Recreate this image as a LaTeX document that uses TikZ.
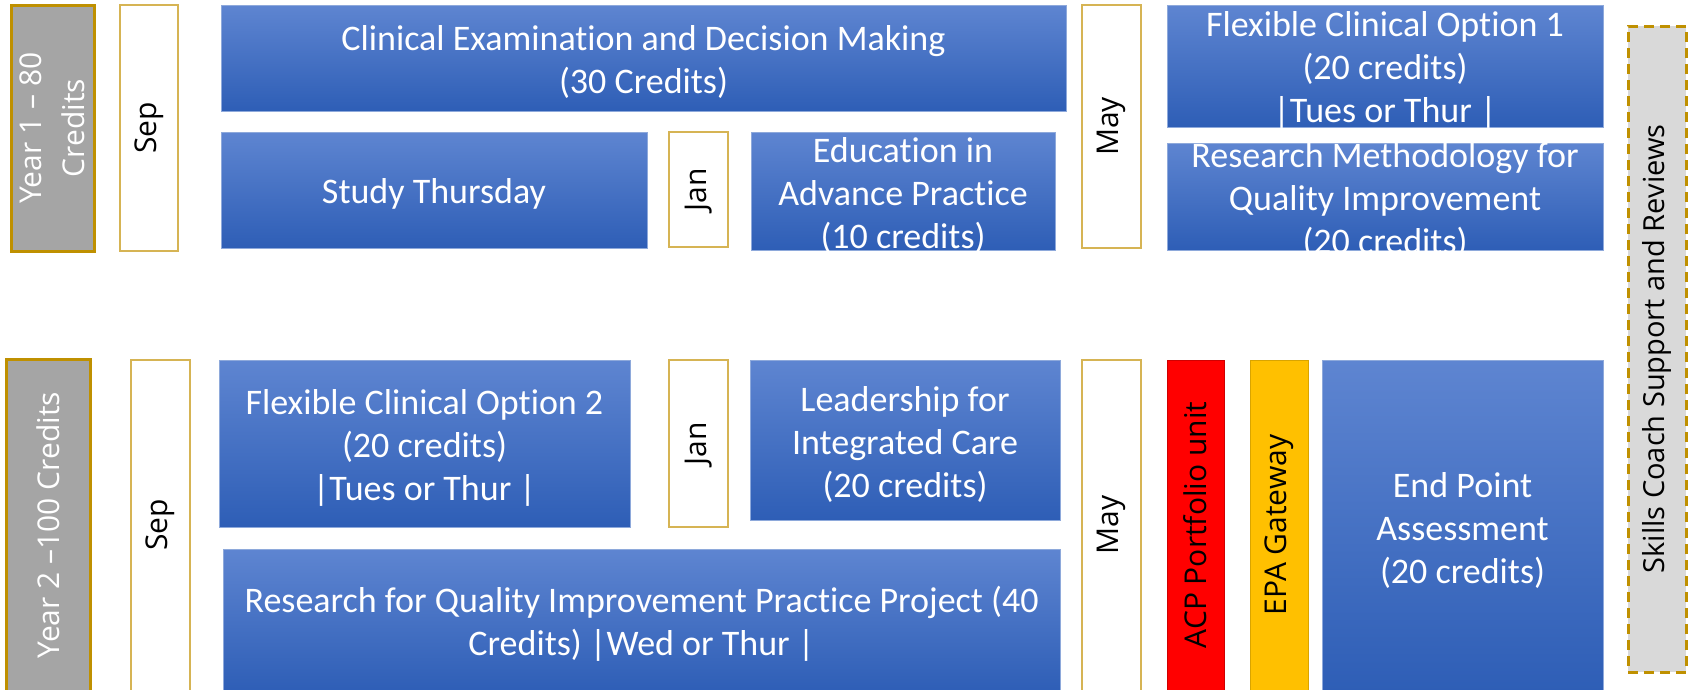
\documentclass[tikz,border=0pt]{standalone}
\usepackage{fontspec}
\setmainfont{Carlito}[Ligatures=NoCommon,RawFeature=-liga]
\newfontfamily\rotfont{Open Sans}
\definecolor{blueTop}{HTML}{5E85D1}
\definecolor{blueBot}{HTML}{2E5EB6}
\definecolor{blueEdge}{HTML}{8EA9DB}
\definecolor{yearFill}{HTML}{A5A5A5}
\definecolor{goldEdge}{HTML}{BF9000}
\definecolor{monthEdge}{HTML}{D6B454}
\definecolor{skillFill}{HTML}{D9D9D9}
\definecolor{epaFill}{HTML}{FFC000}
\definecolor{epaEdge}{HTML}{D9A400}
\definecolor{acpFill}{HTML}{FF0000}
\definecolor{acpEdge}{HTML}{D00000}
\tikzset{
  boxbase/.style={rectangle, inner sep=0pt, outer sep=0pt, anchor=north west},
  bluebox/.style={boxbase, draw=blueEdge, line width=1pt, top color=blueTop, bottom color=blueBot},
  yearbox/.style={boxbase, draw=goldEdge, line width=3pt, fill=yearFill},
  monthbox/.style={boxbase, draw=monthEdge, line width=1.5pt, fill=white},
  acpbox/.style={boxbase, draw=acpEdge, line width=1pt, fill=acpFill},
  epabox/.style={boxbase, draw=epaEdge, line width=1pt, fill=epaFill},
  skillbox/.style={boxbase, draw=goldEdge, line width=3pt, dash pattern=on 10pt off 6pt, fill=skillFill},
  bluetext/.style={inner sep=0pt, align=center, text=white, yshift=-4pt, font=\fontsize{36}{43}\selectfont},
  rottext/.style={inner sep=0pt, align=center, rotate=90, font=\rotfont\fontsize{30}{43}\selectfont},
}
\newcommand{\bx}[6]{\node[#1, minimum width=#4-#2, minimum height=#5-#3] (#6) at (#2,#3) {};}
\begin{document}
\begin{tikzpicture}[x=1pt,y=-1pt]
\useasboundingbox (0,0) rectangle (1688,689);
\clip (0,0) rectangle (1688,689);
\fill[white] (0,0) rectangle (1688,689);
% Year 1 row
\bx{yearbox}{11}{5}{94}{251}{y1}
\node[rottext, text=white] (y1t) at (y1.center) {Year 1 – 80\\Credits};
\bx{monthbox}{120}{5}{178}{251}{sep1}
\node[rottext] (sep1t) at (sep1.center) {Sep};
\bx{bluebox}{221}{5}{1066}{111}{cl}
\node[bluetext] (clt) at (cl.center) {Clinical Examination and Decision Making\\(30 Credits)};
\bx{bluebox}{221}{132}{647}{248}{st}
\node[bluetext] (stt) at (st.center) {Study Thursday};
\bx{monthbox}{669}{132}{728}{247}{jan1}
\node[rottext] (jan1t) at (jan1.center) {Jan};
\bx{bluebox}{751}{132}{1055}{250}{ed}
\node[bluetext] (edt) at (ed.center) {Education in\\Advance Practice\\(10 credits)};
\bx{monthbox}{1082}{5}{1141}{248}{may1}
\node[rottext] (may1t) at (may1.center) {May};
\bx{bluebox}{1167}{5}{1603}{127}{fx1}
\node[bluetext] (fx1t) at (fx1.center) {Flexible Clinical Option 1\\(20 credits)\\|Tues or Thur |};
\bx{bluebox}{1167}{143}{1603}{250}{rm}
\node[bluetext] (rmt) at (rm.center) {Research Methodology for\\Quality Improvement\\(20 credits)};
% Year 2 row
\bx{yearbox}{6}{359}{90}{692}{y2}
\node[rottext, text=white] (y2t) at (48,525) {Year 2 –100 Credits};
\bx{monthbox}{131}{360}{190}{692}{sep2}
\node[rottext] (sep2t) at (160.5,525) {Sep};
\bx{bluebox}{219}{360}{630}{527}{fx2}
\node[bluetext] (fx2t) at (fx2.center) {Flexible Clinical Option 2\\(20 credits)\\|Tues or Thur |};
\bx{monthbox}{669}{360}{728}{527}{jan2}
\node[rottext] (jan2t) at (jan2.center) {Jan};
\bx{bluebox}{750}{360}{1060}{520}{ld}
\node[bluetext] (ldt) at (ld.center) {Leadership for\\Integrated Care\\(20 credits)};
\bx{bluebox}{223}{549}{1060}{692}{rq}
\node[bluetext] (rqt) at (641.5,620) {Research for Quality Improvement Practice Project (40\\Credits) |Wed or Thur |};
\bx{monthbox}{1082}{360}{1141}{692}{may2}
\node[rottext] (may2t) at (1111.5,525) {May};
\bx{acpbox}{1167}{360}{1224}{692}{acp}
\node[rottext] (acpt) at (1195.5,525) {ACP Portfolio unit};
\bx{epabox}{1250}{360}{1308}{692}{epa}
\node[rottext] (epat) at (1279,525) {EPA Gateway};
\bx{bluebox}{1322}{360}{1603}{692}{ep}
\node[bluetext] (ept) at (1462.5,526) {End Point\\Assessment\\(20 credits)};
% Skills coach
\bx{skillbox}{1628}{26}{1686}{672}{sk}
\node[rottext, font=\rotfont\fontsize{29}{43}\selectfont] (skt) at (sk.center) {Skills Coach Support and Reviews};
\end{tikzpicture}
\end{document}
